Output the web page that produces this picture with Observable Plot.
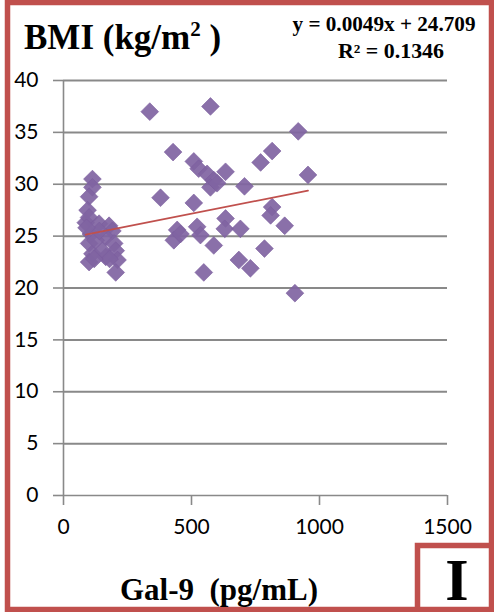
<!DOCTYPE html>
<html>
<head>
<meta charset="utf-8">
<script src="https://cdn.jsdelivr.net/npm/d3@7"></script>
<script src="https://cdn.jsdelivr.net/npm/@observablehq/plot@0.6"></script>
<style>
  html, body { margin: 0; padding: 0; background: #fff; }
  #wrap { position: relative; width: 494px; height: 612px; overflow: hidden; background: #fff; }
  #wrap > * { position: absolute; left: 0; top: 0; }
</style>
</head>
<body>
<div id="wrap"></div>
<script>
// Gal-9 (pg/mL) values
const gal9 = [
  113, 113, 100, 94, 87, 100, 139, 178, 191, 107, 165, 100, 198, 113, 204, 165, 100, 211, 204, 152, 125, 140, 180, 90, 120,
  337, 574, 428, 509, 528, 561, 587, 574, 633, 379, 509, 600,
  917, 815, 770, 707, 955, 815, 809, 864, 633, 630, 691, 785, 685, 730, 904,
  444, 431, 522, 535, 587, 548, 457
];
// BMI (kg/m2) values
const bmi = [
  30.5, 29.7, 28.8, 27.5, 26.3, 26.8, 26.2, 26.0, 25.5, 25.2, 24.9, 24.3, 24.3, 23.3, 23.6, 23.0, 22.5, 22.7, 21.5, 23.6, 24.6, 25.5, 22.8, 25.8, 22.8,
  37.0, 37.5, 33.1, 32.2, 31.5, 31.0, 30.4, 29.7, 31.2, 28.7, 28.2, 30.1,
  35.1, 33.2, 32.1, 29.8, 30.9, 27.8, 27.0, 26.0, 26.7, 25.7, 25.7, 23.8, 22.7, 21.9, 19.5,
  25.6, 24.6, 25.9, 25.1, 24.1, 21.5, 25.2
];
const slope = 0.0049;
const intercept = 24.709;
const xTicks = [0, 500, 1000, 1500];
const yTicks = [0, 5, 10, 15, 20, 25, 30, 35, 40];
const titleText = "BMI (kg/m";
const xLabel = "Gal-9  (pg/mL)";
const eqLine1 = "y = 0.0049x + 24.709";
const eqLine2 = "R² = 0.1346";
const panelLetter = "I";

const points = gal9.map((x, i) => ({x, y: bmi[i]}));
const [xmin, xmax] = d3.extent(gal9);
const trend = [xmin, xmax].map(x => ({x, y: slope * x + intercept}));

const gray = "#898989";
const red = "#c0504d";
const purple = "#8064a2";

const chart = Plot.plot({
  width: 494,
  height: 612,
  marginLeft: 63,
  marginRight: 47,
  marginTop: 80,
  marginBottom: 117,
  style: {fontFamily: "Lato, 'Open Sans', sans-serif", fontSize: "21px", background: "transparent", overflow: "visible"},
  x: {domain: [0, 1500]},
  y: {domain: [0, 40]},
  marks: [
    Plot.ruleY(yTicks.filter(d => d > 0), {stroke: gray, strokeWidth: 2}),
    Plot.ruleY([0], {stroke: gray, strokeWidth: 1.6}),
    Plot.ruleX([0], {stroke: gray, strokeWidth: 1.6}),
    Plot.axisY({ticks: yTicks, tickSize: 10, tickPadding: 15, stroke: gray, strokeWidth: 1.6, fill: "#000", label: null, tickFormat: d => String(d)}),
    Plot.axisX({ticks: xTicks, tickSize: 10, tickPadding: 14, stroke: gray, strokeWidth: 1.6, fill: "#000", label: null, tickFormat: d => String(d)}),
    Plot.dot(points, {x: "x", y: "y", symbol: "diamond2", r: 8, fill: purple, fillOpacity: 0.92, stroke: "#7a5c9e", strokeWidth: 0.6}),
    Plot.line(trend, {x: "x", y: "y", stroke: red, strokeWidth: 1.8})
  ]
});

const wrap = document.getElementById("wrap");
wrap.appendChild(chart);

// decoration overlay (frame, title, equation, labels)
const svg = d3.select(wrap).append("svg")
  .attr("width", 494).attr("height", 612)
  .style("overflow", "visible");

svg.append("rect").attr("x", 7.5).attr("y", 2.5).attr("width", 484).attr("height", 607)
  .attr("fill", "none").attr("stroke", red).attr("stroke-width", 5.5);
svg.append("path").attr("d", "M417.5,612 V545.5 H494")
  .attr("fill", "none").attr("stroke", red).attr("stroke-width", 5.5);

const serif = "'Liberation Serif', 'Times New Roman', serif";

const t = svg.append("text").attr("x", 24).attr("y", 49)
  .attr("font-family", serif).attr("font-weight", "bold").attr("font-size", 35);
t.append("tspan").text(titleText);
t.append("tspan").attr("font-size", 21).attr("dy", -13).text("2");
t.append("tspan").attr("dy", 13).text(" )");

svg.append("text").attr("x", 384).attr("y", 31).attr("text-anchor", "middle")
  .attr("font-family", serif).attr("font-weight", "bold").attr("font-size", 20)
  .attr("textLength", 183).attr("lengthAdjust", "spacingAndGlyphs")
  .text(eqLine1);
svg.append("text").attr("x", 391).attr("y", 58).attr("text-anchor", "middle")
  .attr("font-family", serif).attr("font-weight", "bold").attr("font-size", 20)
  .attr("textLength", 106).attr("lengthAdjust", "spacingAndGlyphs")
  .text(eqLine2);

svg.append("text").attr("x", 219).attr("y", 600).attr("text-anchor", "middle")
  .attr("font-family", serif).attr("font-weight", "bold").attr("font-size", 31)
  .style("white-space", "pre")
  .text(xLabel);

svg.append("text").attr("x", 457).attr("y", 600).attr("text-anchor", "middle")
  .attr("font-family", serif).attr("font-weight", "bold").attr("font-size", 60)
  .text(panelLetter);
</script>
</body>
</html>
